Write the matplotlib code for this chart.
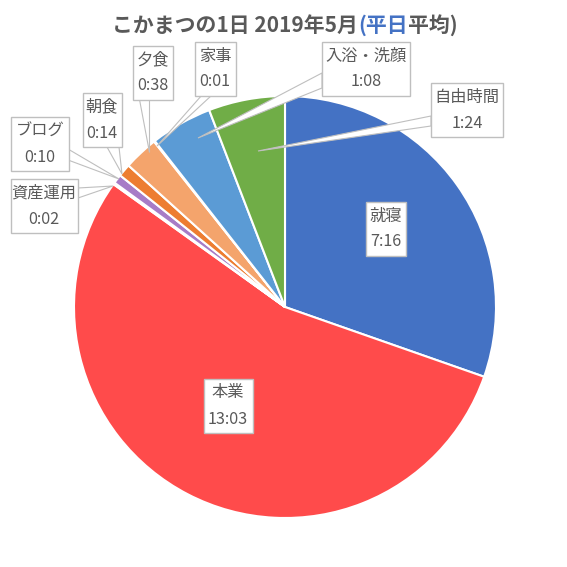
import matplotlib
matplotlib.use('Agg')
import matplotlib.pyplot as plt
from matplotlib.patches import Rectangle, Polygon

plt.rcParams['font.family'] = ['Noto Sans CJK JP', 'DejaVu Sans']

# data (minutes), clockwise from 12 o'clock
names = ['就寝', '本業', '資産運用', 'ブログ', '朝食', '夕食', '家事', '入浴・洗顔', '自由時間']
times = ['7:16', '13:03', '0:02', '0:10', '0:14', '0:38', '0:01', '1:08', '1:24']
minutes = [int(t.split(':')[0]) * 60 + int(t.split(':')[1]) for t in times]
colors = ['#4472C4', '#FF4B4B', '#A5A5A5', '#A77CC7', '#ED7D31', '#F4A46C', '#FFC000', '#5B9BD5', '#70AD47']

# label box centres (px from top-left) and callout geometry
box_c = {'就寝': (386, 229), '本業': (228, 406), '資産運用': (44, 206), 'ブログ': (40, 144),
         '朝食': (102, 120), '夕食': (153, 73), '家事': (215, 69), '入浴・洗顔': (366, 69),
         '自由時間': (467, 110)}
box_w = {'就寝': 40, '本業': 49, '資産運用': 67, 'ブログ': 58, '朝食': 39, '夕食': 40,
         '家事': 41, '入浴・洗顔': 88, '自由時間': 72}
callout = {'資産運用': [(78, 188), (78, 198), (113, 186)],
           'ブログ': [(68, 149), (68, 160), (119, 179)],
           '朝食': [(107, 147), (119, 147), (122, 174)],
           '夕食': [(139, 99), (149, 99), (149, 152)],
           '家事': [(202, 95), (212, 95), (157, 146)],
           '入浴・洗顔': [(322, 73), (322, 88), (198, 138)],
           '自由時間': [(431, 116), (431, 126), (258, 151)]}

H = 567
def Y(y):
    return H - y

fig = plt.figure(figsize=(5.67, 5.67), dpi=100)
ax = fig.add_axes([0, 0, 1, 1])
ax.pie(minutes, colors=colors, startangle=90, counterclock=False,
       center=(285, Y(307)), radius=211,
       wedgeprops=dict(edgecolor='white', linewidth=1.5))
ax.set_xlim(0, H)
ax.set_ylim(0, H)
ax.set_aspect('equal')
ax.axis('off')

grey = '#595959'
for n, t in zip(names, times):
    cx, cy = box_c[n]
    if n in callout:
        pts = [(x, Y(y)) for x, y in callout[n]]
        ax.add_patch(Polygon(pts, closed=True, facecolor='white', edgecolor='#BFBFBF',
                             lw=0.8, zorder=3))
    w = box_w[n]
    ax.add_patch(Rectangle((cx - w / 2, Y(cy) - 27), w, 54, facecolor='white',
                           edgecolor='#BFBFBF', lw=1, zorder=4))
    ax.text(cx, Y(cy - 13), n, ha='center', va='center', fontsize=11.7, color=grey, zorder=5)
    ax.text(cx, Y(cy + 13), t, ha='center', va='center', fontsize=11.7, color=grey, zorder=5)

# title with coloured part
parts = [('こかまつの1日 2019年5月', grey), ('(平日', '#4472C4'), ('平均)', grey)]
full = ''.join(s for s, c in parts)
fig.canvas.draw()
r = fig.canvas.get_renderer()
tkw = dict(fontsize=15, fontweight='bold', va='center', ha='left')
def tw(s):
    t = ax.text(0, 0, s, **tkw)
    w = t.get_window_extent(r).width
    t.remove()
    return w
x0 = 285 - tw(full) / 2
prefix = ''
for s, c in parts:
    off = tw(prefix) if prefix else 0
    ax.text(x0 + off, Y(25), s, color=c, **tkw)
    prefix += s

fig.savefig('out.png', dpi=100)
